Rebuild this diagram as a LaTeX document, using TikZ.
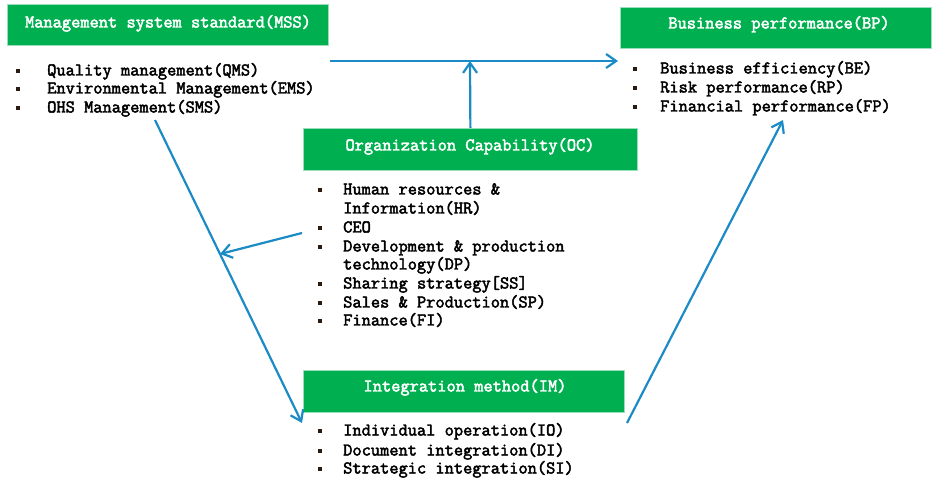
\documentclass[tikz,border=0pt]{standalone}
\usepackage{fontspec}
\usetikzlibrary{arrows.meta}
\newfontfamily\dgbase{Latin Modern Mono}[FakeBold=2.5, FakeStretch=0.995]
\newcommand\dgfont{\dgbase\fontsize{18}{18}\selectfont}
\definecolor{boxgreen}{HTML}{00B050}
\definecolor{flowblue}{HTML}{1B8BC6}
\definecolor{bulletc}{HTML}{2A1A10}
\tikzset{
  hdr/.style={fill=boxgreen, draw=boxgreen!40!white, line width=0.8pt,
    anchor=north west, inner sep=0pt},
  hdrtext/.style={text=white, font=\dgfont, inner sep=0pt, anchor=base},
  itemtext/.style={text=black, font=\dgfont, inner sep=0pt, anchor=base west},
  dot/.style={rectangle, fill=bulletc, minimum size=3.4pt, inner sep=0pt},
  flow/.style={draw=flowblue, line width=2.2pt,
    -{Straight Barb[length=10pt,width=14pt]}}
}
\begin{document}
\begin{tikzpicture}[x=1pt,y=-1pt]
\useasboundingbox (0,0) rectangle (932,478);

% header boxes
\node[hdr, minimum width=321pt, minimum height=41pt] (mss) at (7,4) {};
\node[hdrtext] (msst) at (168,27.5) {Management system standard(MSS)};
\node[hdr, minimum width=311pt, minimum height=41pt] (bp) at (620,7) {};
\node[hdrtext] (bpt) at (779,28.5) {Business performance(BP)};
\node[hdr, minimum width=334pt, minimum height=42pt] (oc) at (303,128) {};
\node[hdrtext] (oct) at (470,150.5) {Organization Capability(OC)};
\node[hdr, minimum width=321pt, minimum height=42pt] (im) at (303,370) {};
\node[hdrtext] (imt) at (465,391.5) {Integration method(IM)};

% bullet lists: y = line centre
\foreach \y/\t [count=\i] in {70/Quality management(QMS),
    88/Environmental Management(EMS), 107/OHS Management(SMS)} {
  \node[dot] (mssb\i) at (18,\y+1) {};
  \node[itemtext] (mssl\i) at (47,\y+5.5) {\t};
}
\foreach \y/\t [count=\i] in {68/Business efficiency(BE),
    87/Risk performance(RP), 106/Financial performance(FP)} {
  \node[dot] (bpb\i) at (635,\y+1) {};
  \node[itemtext] (bpl\i) at (660,\y+5.5) {\t};
}
\foreach \y [count=\i] in {189, 227, 246, 283, 302, 320} {
  \node[dot] (ocb\i) at (320,\y+1) {};
}
\foreach \y/\t [count=\i] in {189/Human resources \&, 208/Information(HR),
    227/CEO, 246/Development \& production, 264/technology(DP),
    283/Sharing strategy[SS], 302/Sales \& Production(SP), 320/Finance(FI)} {
  \node[itemtext] (ocl\i) at (343,\y+5.5) {\t};
}
\foreach \y/\t [count=\i] in {430/Individual operation(IO),
    450/Document integration(DI), 468/Strategic integration(SI)} {
  \node[dot] (imb\i) at (320,\y+1) {};
  \node[itemtext] (iml\i) at (343,\y+5.5) {\t};
}

% connector ends
\coordinate (mssout) at (330,61);
\coordinate (bpin) at (618,61);
\coordinate (join) at (470,61);
\coordinate (mssdown) at (155,120);
\coordinate (imin) at (302,423);
\coordinate (ocout) at (302,233);
\coordinate (merge) at (220,254);
\coordinate (imout) at (627,423);
\coordinate (bpup) at (783,120);

% connectors
\draw[flow] (mssout) -- (bpin);
\draw[flow] (oc.north) -- (join);
\draw[flow] (mssdown) -- (imin);
\draw[flow] (ocout) -- (merge);
\draw[flow] (imout) -- (bpup);
\end{tikzpicture}
\end{document}
